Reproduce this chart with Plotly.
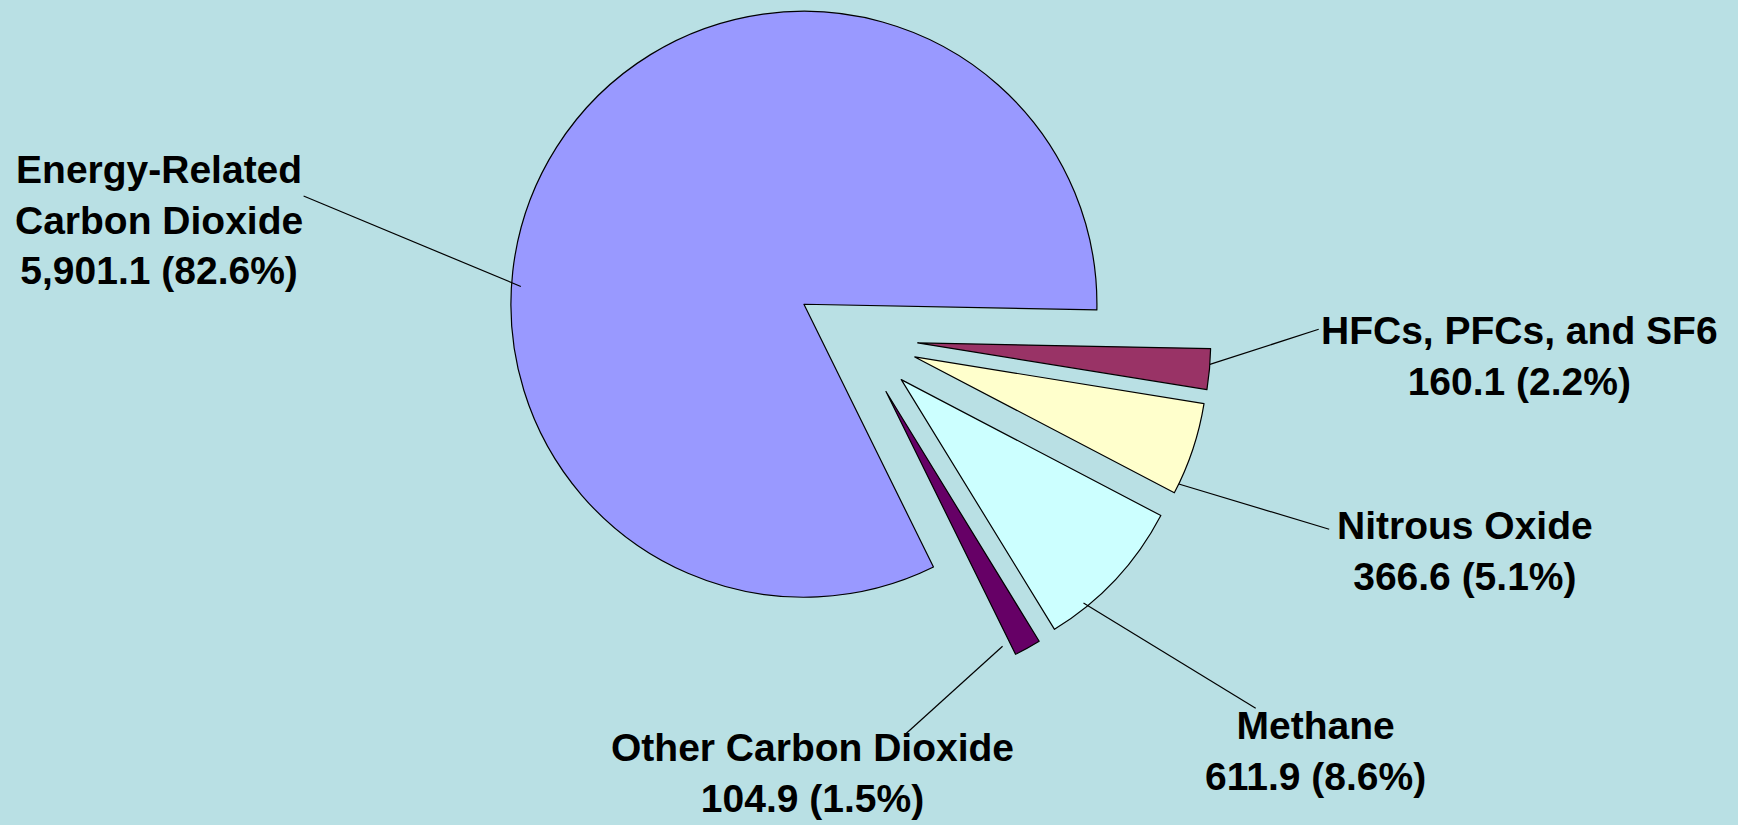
import math
import plotly.graph_objects as go

# ---- data -------------------------------------------------------------
categories = [
    "Energy-Related Carbon Dioxide",
    "HFCs, PFCs, and SF6",
    "Nitrous Oxide",
    "Methane",
    "Other Carbon Dioxide",
]
label_names = [
    "Energy-Related<br>Carbon Dioxide",
    "HFCs, PFCs, and SF6",
    "Nitrous Oxide",
    "Methane",
    "Other Carbon Dioxide",
]
values = [5901.1, 160.1, 366.6, 611.9, 104.9]
colors = ["#9999FF", "#993366", "#FFFFCC", "#CCFFFF", "#660066"]

# ---- layout constants (pixels, figure is W x H with no margins) -------
W, H = 1738, 825
BG = "#B9E0E4"
RADIUS = 293            # pie radius
PULL = 0.211            # explode distance as a fraction of the radius
CENTER = (856.1, 337.4) # un-exploded pie centre
SPLIT_ANGLE = 91.1      # clockwise-from-12 angle where the big slice ends
FONT = dict(family="Liberation Sans, Arial, sans-serif", size=39, color="black")

# label block centres
label_pos = [(159, 219.5), (1519, 356.4), (1465, 550.8), (1315.6, 750.8), (812.6, 773)]
# leader lines: attach angle (deg, clockwise from 12), radial fraction, outer end point
leader_attach = [(273.6, 0.968), (94.2, 1.0), (115.7, 1.0), (140.8, 0.984), (155.4, 0.956)]
leader_end = [(303.6, 196), (1318.7, 329.3), (1329.2, 529.3), (1255.7, 708.3), (905.6, 734)]

# ---- geometry derived from the values ---------------------------------
total = sum(values)
spans = [360.0 * v / total for v in values]
rotation = (SPLIT_ANGLE - spans[0]) % 360
mids = []
a = rotation
for s in spans:
    mids.append(a + s / 2)
    a += s


def direction(deg):
    t = math.radians(deg)
    return math.sin(t), -math.cos(t)


def to_paper(px, py):
    return px / W, 1 - py / H


fig = go.Figure()
vertices = []
for k in range(len(values)):
    # each slice is its own pie trace, shifted outward along its bisector
    dx, dy = direction(mids[k])
    cx = CENTER[0] + PULL * RADIUS * dx
    cy = CENTER[1] + PULL * RADIUS * dy
    vertices.append((cx, cy))
    fig.add_trace(go.Pie(
        labels=categories,
        values=values,
        sort=False,
        direction="clockwise",
        rotation=rotation,
        textinfo="none",
        showlegend=False,
        marker=dict(
            colors=[c if i == k else "rgba(0,0,0,0)" for i, c in enumerate(colors)],
            line=dict(color="black", width=[1.2 if i == k else 0 for i in range(len(values))]),
        ),
        domain=dict(
            x=[(cx - RADIUS) / W, (cx + RADIUS) / W],
            y=[1 - (cy + RADIUS) / H, 1 - (cy - RADIUS) / H],
        ),
        hoverinfo="label+value+percent",
    ))

shapes = []
annotations = []
for k in range(len(values)):
    ang, frac = leader_attach[k]
    dx, dy = direction(ang)
    sx = vertices[k][0] + frac * RADIUS * dx
    sy = vertices[k][1] + frac * RADIUS * dy
    x0, y0 = to_paper(sx, sy)
    x1, y1 = to_paper(*leader_end[k])
    shapes.append(dict(type="line", xref="paper", yref="paper",
                       x0=x0, y0=y0, x1=x1, y1=y1,
                       line=dict(color="black", width=1.2)))
    pct = values[k] / total * 100
    text = f"<b>{label_names[k]}<br>{values[k]:,.1f} ({pct:.1f}%)</b>"
    lx, ly = to_paper(*label_pos[k])
    annotations.append(dict(x=lx, y=ly, xref="paper", yref="paper",
                            xanchor="center", yanchor="middle", align="center",
                            showarrow=False, text=text, font=FONT))

fig.update_layout(
    width=W, height=H,
    margin=dict(l=0, r=0, t=0, b=0),
    paper_bgcolor=BG, plot_bgcolor=BG,
    shapes=shapes,
    annotations=annotations,
)

fig.write_html("out.html")
